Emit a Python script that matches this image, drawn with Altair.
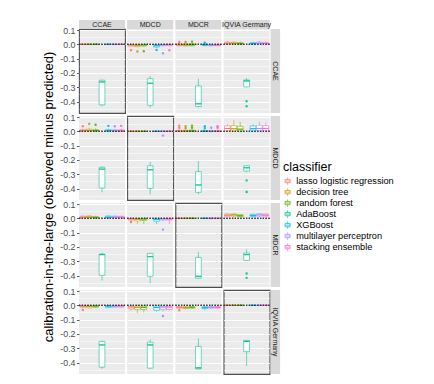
import altair as alt
import pandas as pd

FONT = "Liberation Sans"

databases = ["CCAE", "MDCD", "MDCR", "IQVIA Germany"]
classifiers = ["lasso logistic regression", "decision tree", "random forest",
               "AdaBoost", "XGBoost", "multilayer perceptron", "stacking ensemble"]
palette = ["#F8766D", "#C49A00", "#53B400", "#00C094", "#00B6EB", "#A58AFF", "#FB61D7"]
y_title = "calibration-in-the-large (observed minus predicted)"
legend_title = "classifier"
tick_values = [-0.45, -0.4, -0.35, -0.3, -0.25, -0.2, -0.15, -0.1, -0.05, 0.0, 0.05, 0.1]

# box statistics per classifier: (lower whisker, Q1, median, Q3, upper whisker)
# name = <row database>_<column database>
ccae_ccae = [(-0.003, -0.001, 0.0, 0.001, 0.003), (-0.003, -0.001, 0.0, 0.001, 0.003),
             (-0.003, -0.001, 0.0, 0.001, 0.003), (-0.433, -0.423, -0.263, -0.251, -0.247),
             (-0.003, -0.001, 0.0, 0.001, 0.002), (-0.004, -0.001, 0.0, 0.001, 0.003),
             (-0.003, -0.001, 0.0, 0.001, 0.002)]
ccae_mdcd = [(-0.020, -0.013, -0.005, -0.001, 0.0), (-0.022, -0.016, -0.008, -0.002, 0.0),
             (-0.018, -0.012, -0.004, -0.001, 0.0), (-0.444, -0.426, -0.272, -0.240, -0.221),
             (-0.025, -0.019, -0.010, -0.002, 0.0), (-0.015, -0.010, -0.004, -0.001, 0.0),
             (-0.015, -0.010, -0.003, -0.001, 0.0)]
ccae_mdcr = [(-0.016, -0.010, -0.004, 0.003, 0.010), (-0.016, -0.011, -0.005, 0.002, 0.010),
             (-0.014, -0.010, -0.003, 0.003, 0.012), (-0.442, -0.435, -0.416, -0.291, -0.240),
             (-0.014, -0.009, -0.004, 0.001, 0.006), (-0.014, -0.011, -0.006, -0.002, 0.003),
             (-0.013, -0.010, -0.005, -0.001, 0.004)]
ccae_iqvia = [(0.0, 0.002, 0.008, 0.016, 0.025), (0.0, 0.002, 0.007, 0.014, 0.022),
              (0.0, 0.001, 0.005, 0.012, 0.020), (-0.302, -0.298, -0.256, -0.249, -0.237),
              (0.0, 0.001, 0.005, 0.012, 0.018), (0.0, 0.003, 0.008, 0.016, 0.024),
              (0.0, 0.002, 0.006, 0.013, 0.020)]
mdcd_ccae = [(0.0, 0.001, 0.004, 0.012, 0.020), (0.0, 0.002, 0.006, 0.015, 0.025),
             (0.0, 0.001, 0.005, 0.012, 0.020), (-0.426, -0.396, -0.264, -0.252, -0.243),
             (0.0, 0.001, 0.004, 0.012, 0.018), (0.0, 0.001, 0.004, 0.010, 0.016),
             (0.0, 0.001, 0.004, 0.011, 0.018)]
mdcd_mdcd = [(-0.003, -0.001, 0.0, 0.001, 0.003), (-0.003, -0.001, 0.0, 0.001, 0.003),
             (-0.003, -0.001, 0.0, 0.001, 0.003), (-0.440, -0.398, -0.269, -0.241, -0.213),
             (-0.003, -0.001, 0.0, 0.001, 0.002), (-0.004, -0.001, 0.0, 0.001, 0.003),
             (-0.003, -0.001, 0.0, 0.001, 0.002)]
mdcd_mdcr = [(-0.003, 0.0, 0.002, 0.007, 0.012), (-0.003, 0.0, 0.002, 0.007, 0.012),
             (-0.003, 0.0, 0.003, 0.008, 0.014), (-0.440, -0.426, -0.375, -0.282, -0.208),
             (-0.004, -0.001, 0.001, 0.006, 0.010), (-0.006, -0.002, 0.0, 0.005, 0.010),
             (-0.004, -0.001, 0.001, 0.006, 0.012)]
mdcd_iqvia = [(0.0, 0.003, 0.020, 0.038, 0.050), (0.0, 0.002, 0.018, 0.040, 0.078),
              (0.0, 0.002, 0.015, 0.035, 0.065), (-0.282, -0.278, -0.255, -0.241, -0.236),
              (0.0, 0.003, 0.018, 0.038, 0.050), (0.0, 0.004, 0.020, 0.042, 0.068),
              (0.0, 0.003, 0.020, 0.040, 0.060)]
mdcr_ccae = [(0.0, 0.002, 0.008, 0.015, 0.020), (0.0, 0.003, 0.009, 0.016, 0.022),
             (0.0, 0.001, 0.006, 0.012, 0.018), (-0.435, -0.398, -0.254, -0.250, -0.240),
             (0.0, 0.002, 0.008, 0.016, 0.020), (0.0, 0.003, 0.009, 0.015, 0.020),
             (0.0, 0.002, 0.008, 0.014, 0.018)]
mdcr_mdcd = [(-0.035, -0.012, -0.004, 0.0, 0.002), (-0.040, -0.018, -0.006, -0.001, 0.0),
             (-0.040, -0.015, -0.005, 0.0, 0.002), (-0.453, -0.405, -0.268, -0.245, -0.240),
             (-0.040, -0.020, -0.008, 0.0, 0.002), (-0.020, -0.012, -0.004, -0.001, 0.0),
             (-0.040, -0.012, -0.004, 0.0, 0.002)]
mdcr_mdcr = [(-0.003, -0.001, 0.0, 0.001, 0.003), (-0.003, -0.001, 0.0, 0.001, 0.003),
             (-0.003, -0.001, 0.0, 0.001, 0.003), (-0.423, -0.418, -0.405, -0.273, -0.234),
             (-0.003, -0.001, 0.0, 0.001, 0.002), (-0.008, -0.002, 0.0, 0.002, 0.008),
             (-0.003, -0.001, 0.0, 0.001, 0.002)]
mdcr_iqvia = [(0.008, 0.014, 0.022, 0.030, 0.034), (0.010, 0.016, 0.024, 0.030, 0.034),
              (0.008, 0.012, 0.018, 0.025, 0.030), (-0.296, -0.294, -0.254, -0.243, -0.217),
              (0.008, 0.013, 0.020, 0.028, 0.032), (0.010, 0.015, 0.024, 0.032, 0.036),
              (0.010, 0.015, 0.022, 0.030, 0.034)]
iqvia_ccae = [(-0.020, -0.014, -0.006, -0.002, 0.0), (-0.022, -0.018, -0.008, -0.003, 0.0),
              (-0.018, -0.013, -0.006, -0.002, 0.0), (-0.444, -0.432, -0.277, -0.252, -0.247),
              (-0.020, -0.015, -0.006, -0.002, 0.0), (-0.018, -0.014, -0.006, -0.002, 0.0),
              (-0.018, -0.013, -0.005, -0.002, 0.0)]
iqvia_mdcd = [(-0.040, -0.025, -0.012, -0.005, 0.0), (-0.055, -0.030, -0.014, -0.005, 0.0),
              (-0.050, -0.030, -0.014, -0.005, 0.0), (-0.444, -0.439, -0.277, -0.257, -0.240),
              (-0.045, -0.035, -0.015, -0.005, 0.0), (-0.045, -0.030, -0.012, -0.005, 0.0),
              (-0.040, -0.030, -0.012, -0.005, 0.0)]
iqvia_mdcr = [(-0.025, -0.020, -0.014, -0.008, -0.004), (-0.028, -0.022, -0.016, -0.010, -0.005),
              (-0.025, -0.020, -0.014, -0.009, -0.004), (-0.449, -0.444, -0.437, -0.287, -0.231),
              (-0.035, -0.022, -0.016, -0.010, -0.005), (-0.025, -0.020, -0.014, -0.009, -0.004),
              (-0.025, -0.020, -0.014, -0.009, -0.005)]
iqvia_iqvia = [(-0.003, -0.001, 0.0, 0.001, 0.003), (-0.003, -0.001, 0.0, 0.001, 0.003),
               (-0.003, -0.001, 0.0, 0.001, 0.003), (-0.425, -0.324, -0.252, -0.245, -0.243),
               (-0.003, -0.001, 0.0, 0.001, 0.002), (-0.004, -0.001, 0.0, 0.001, 0.003),
               (-0.003, -0.001, 0.0, 0.001, 0.002)]

# outliers: (row database, column database, classifier, value)
outliers = [
    ("CCAE", "MDCD", "lasso logistic regression", -0.042), ("CCAE", "MDCD", "decision tree", -0.050),
    ("CCAE", "MDCD", "random forest", -0.049), ("CCAE", "MDCD", "XGBoost", -0.040),
    ("CCAE", "MDCD", "multilayer perceptron", -0.062), ("CCAE", "MDCD", "stacking ensemble", -0.042),
    ("CCAE", "MDCR", "lasso logistic regression", 0.016), ("CCAE", "MDCR", "decision tree", 0.016),
    ("CCAE", "MDCR", "random forest", 0.019), ("CCAE", "MDCR", "XGBoost", 0.012),
    ("CCAE", "IQVIA Germany", "AdaBoost", -0.398), ("CCAE", "IQVIA Germany", "AdaBoost", -0.433),
    ("MDCD", "CCAE", "lasso logistic regression", 0.036), ("MDCD", "CCAE", "decision tree", 0.052),
    ("MDCD", "CCAE", "random forest", 0.046), ("MDCD", "CCAE", "XGBoost", 0.038),
    ("MDCD", "CCAE", "multilayer perceptron", 0.035), ("MDCD", "CCAE", "stacking ensemble", 0.038),
    ("MDCD", "MDCD", "multilayer perceptron", -0.030),
    ("MDCD", "MDCR", "lasso logistic regression", 0.025), ("MDCD", "MDCR", "lasso logistic regression", 0.040),
    ("MDCD", "MDCR", "decision tree", 0.022), ("MDCD", "MDCR", "decision tree", 0.036),
    ("MDCD", "MDCR", "random forest", 0.025), ("MDCD", "MDCR", "random forest", 0.040),
    ("MDCD", "MDCR", "XGBoost", 0.022), ("MDCD", "MDCR", "XGBoost", 0.036),
    ("MDCD", "MDCR", "multilayer perceptron", 0.025),
    ("MDCD", "MDCR", "stacking ensemble", 0.025), ("MDCD", "MDCR", "stacking ensemble", 0.036),
    ("MDCD", "IQVIA Germany", "AdaBoost", -0.343), ("MDCD", "IQVIA Germany", "AdaBoost", -0.424),
    ("MDCR", "MDCD", "lasso logistic regression", -0.025), ("MDCR", "MDCD", "multilayer perceptron", -0.079),
    ("MDCR", "IQVIA Germany", "AdaBoost", -0.386), ("MDCR", "IQVIA Germany", "AdaBoost", -0.416),
    ("IQVIA Germany", "CCAE", "lasso logistic regression", -0.032),
    ("IQVIA Germany", "MDCD", "multilayer perceptron", -0.075),
    ("IQVIA Germany", "MDCR", "lasso logistic regression", -0.035),
]

panel_stats = {
    ("CCAE", "CCAE"): ccae_ccae, ("CCAE", "MDCD"): ccae_mdcd,
    ("CCAE", "MDCR"): ccae_mdcr, ("CCAE", "IQVIA Germany"): ccae_iqvia,
    ("MDCD", "CCAE"): mdcd_ccae, ("MDCD", "MDCD"): mdcd_mdcd,
    ("MDCD", "MDCR"): mdcd_mdcr, ("MDCD", "IQVIA Germany"): mdcd_iqvia,
    ("MDCR", "CCAE"): mdcr_ccae, ("MDCR", "MDCD"): mdcr_mdcd,
    ("MDCR", "MDCR"): mdcr_mdcr, ("MDCR", "IQVIA Germany"): mdcr_iqvia,
    ("IQVIA Germany", "CCAE"): iqvia_ccae, ("IQVIA Germany", "MDCD"): iqvia_mdcd,
    ("IQVIA Germany", "MDCR"): iqvia_mdcr, ("IQVIA Germany", "IQVIA Germany"): iqvia_iqvia,
}

records = []
for (r, c), stats in panel_stats.items():
    for k, s in zip(classifiers, stats):
        records.append({"row": r, "col": c, "classifier": k,
                        "lo": s[0], "q1": s[1], "med": s[2], "q3": s[3], "hi": s[4]})
box_df = pd.DataFrame(records)
out_df = pd.DataFrame(outliers, columns=["row", "col", "classifier", "value"])

W, H = 46, 84
STRIP_H, STRIP_W = 9, 9.5
BOX_PATH = "M-0.7,-0.45H0.7V0.45H-0.7Z M0,-1V-0.45 M0,0.45V1 M-0.7,0H0.7"

MINOR = "abs(round(datum.value*20)) % 2 == 1"
xscale = alt.Scale(domain=classifiers, paddingInner=0.1, paddingOuter=0.15)
yscale = alt.Scale(domain=[-0.48, 0.107], nice=False, zero=False)
cscale = alt.Scale(domain=classifiers, range=palette)

legend = alt.Legend(title=legend_title, orient="none", legendX=204, legendY=132,
                    symbolType=BOX_PATH, symbolFillColor="#FFFFFF", symbolStrokeWidth=1,
                    symbolSize=53, symbolOpacity=0.75,
                    labelFontSize=9.2, labelFont=FONT, labelColor="#000000",
                    titleFontSize=12.5, titleFont=FONT, titleColor="#000000",
                    titleFontWeight="normal", rowPadding=-4.5, titlePadding=3,
                    labelOffset=4)


def y_axis(left):
    common = dict(values=tick_values, grid=True, gridColor="#FFFFFF",
                  gridWidth={"condition": {"test": MINOR, "value": 0.5}, "value": 1.0},
                  domain=False, title=None)
    if left:
        return alt.Axis(**common,
                        labelExpr="abs(round(datum.value*20)) % 2 == 1 ? '' : "
                                  "(datum.value < 0 ? '-' : '') + format(abs(datum.value), '.1f')",
                        labelFont=FONT, labelFontSize=8.8, labelColor="#4D4D4D",
                        labelPadding=1.5, ticks=True, tickColor="#333333", tickSize=2.5,
                        tickWidth=0.8,
                        tickOpacity={"condition": {"test": MINOR, "value": 0}, "value": 1})
    return alt.Axis(**common, labels=False, ticks=False)


def panel(r, c, ri, ci):
    left = ci == 0
    ax = y_axis(left)
    d = box_df[(box_df["row"] == r) & (box_df["col"] == c)]
    o = out_df[(out_df["row"] == r) & (out_df["col"] == c)]
    x = alt.X("classifier:N", scale=xscale, axis=None)
    stroke = alt.Stroke("classifier:N", scale=cscale, legend=legend)

    def Y(f):
        return alt.Y(f"{f}:Q", scale=yscale, axis=ax)

    base = alt.Chart(d)
    layers = [
        base.mark_rule(strokeWidth=0.8, opacity=0.7).encode(x=x, y=Y("lo"), y2="hi", stroke=stroke),
        base.mark_bar(fill="#FFFFFF", strokeWidth=0.8, strokeOpacity=0.7).encode(
            x=x, y=Y("q1"), y2="q3", stroke=stroke),
        base.mark_tick(size=5.6, thickness=0.2, filled=False, strokeWidth=0.9, opacity=0.9).encode(
            x=x, y=Y("med"), stroke=stroke),
    ]
    if len(o):
        layers.append(alt.Chart(o).mark_point(shape="circle", filled=False, size=1.5,
                                              strokeWidth=1.2, opacity=0.9).encode(
            x=x, y=Y("value"), stroke=stroke))
    layers.append(base.mark_rule(color="#333333", strokeWidth=0.5, strokeDash=[1.2, 1.6]).encode(
        y=alt.Y(datum=0, scale=yscale, axis=ax)))
    lab = pd.DataFrame({"label": [c]})
    if ri == 0:
        layers.append(alt.Chart(lab).mark_rect(fill="#D9D9D9").encode(
            x=alt.value(0), x2=alt.value(W), y=alt.value(-STRIP_H), y2=alt.value(0)))
        layers.append(alt.Chart(lab).mark_text(font=FONT, fontSize=7, color="#1A1A1A").encode(
            text="label:N", x=alt.value(W / 2), y=alt.value(-STRIP_H / 2)))
    if ci == 3:
        rl = pd.DataFrame({"label": [r]})
        layers.append(alt.Chart(rl).mark_rect(fill="#D9D9D9").encode(
            x=alt.value(W + 1), x2=alt.value(W + 1 + STRIP_W), y=alt.value(0), y2=alt.value(H)))
        layers.append(alt.Chart(rl).mark_text(font=FONT, fontSize=7, color="#1A1A1A", angle=90).encode(
            text="label:N", x=alt.value(W + 1 + STRIP_W / 2), y=alt.value(H / 2)))
    ch = alt.layer(*layers).properties(width=W, height=H)
    if r == c:
        ch = ch.properties(view=alt.ViewBackground(fill="#EBEBEB", stroke="#4D4D4D", strokeWidth=1.1))
    return ch


cells = [panel(r, c, ri, ci) for ri, r in enumerate(databases) for ci, c in enumerate(databases)]

chart = alt.concat(*cells, columns=4, align="each", bounds="flush",
                   spacing={"row": 3, "column": 2.2}).properties(
    title=alt.TitleParams(text=y_title, orient="left", anchor="middle", font=FONT,
                          fontSize=13, fontWeight="normal", color="#000000", offset=3),
    padding={"left": 35, "top": 11, "right": 5, "bottom": 5},
    background="#FFFFFF",
).configure_view(fill="#EBEBEB", strokeWidth=0)

chart.save("out.html", embed_options={"renderer": "svg", "actions": False})
